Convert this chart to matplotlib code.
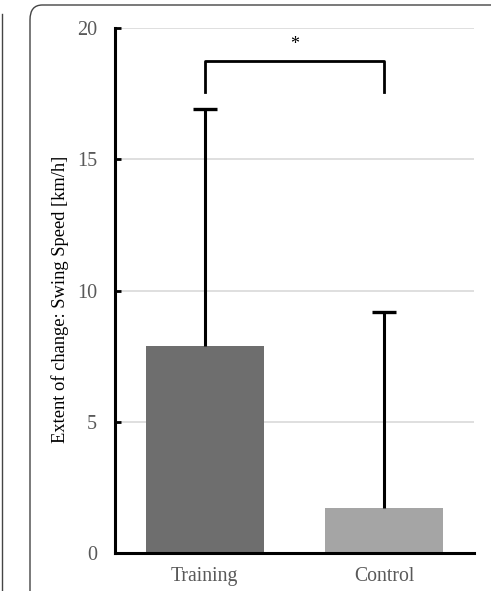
import matplotlib
matplotlib.use("Agg")
from matplotlib import pyplot as plt
from matplotlib.patches import FancyBboxPatch
from matplotlib.lines import Line2D

## Data
groups = ["Training", "Control"]
means = [7.9, 1.7]
sds = [9.0, 7.5]  # upper error only
bracket_y = 18.75
bracket_drop = 17.55
sig_label = "*"
yticks = [0, 5, 10, 15, 20]

## Style
plt.rc("font", family=["Liberation Serif", "DejaVu Serif"], size=14)
bar_colors = ["#6e6e6e", "#a5a5a5"]
tick_color = "#595959"

fig = plt.figure(figsize=(4.91, 5.91), dpi=100)

# panel frame (rounded box, cut at right/bottom) + edge of neighbouring panel
frame = FancyBboxPatch(
    (30 / 491, -0.1), 1.2, (591 - 5) / 591 + 0.1,
    boxstyle="round,pad=0,rounding_size=0.025",
    transform=fig.transFigure, facecolor="none", edgecolor="#444444", linewidth=1.0,
)
fig.patches.append(frame)
fig.lines.append(Line2D([2 / 491, 2 / 491], [0, 1 - 14 / 591], transform=fig.transFigure,
                        color="#444444", linewidth=1.0))

ax = fig.add_axes([115 / 491, 38 / 591, (474 - 115) / 491, (553 - 28) / 591])

x = list(range(len(groups)))
tops = [m + s for m, s in zip(means, sds)]
ax.bar(x, means, width=0.66, color=bar_colors, zorder=2)
# upper-only error bars
ax.vlines(x, means, tops, color="black", linewidth=2.2, zorder=3)
ax.plot(x, tops, linestyle="none", marker="_", markersize=17, markeredgewidth=2.4,
        color="black", zorder=3)

# significance bracket
ax.plot([0, 0, 1, 1], [bracket_drop, bracket_y, bracket_y, bracket_drop],
        color="black", linewidth=2.0, clip_on=False, zorder=4)
ax.text(0.5, bracket_y + 0.3, sig_label, ha="center", va="bottom", fontsize=13)

ax.set_xlim(-0.5, 1.5)
ax.set_ylim(0, 20)
ax.set_yticks(yticks)
ax.set_xticks(x)
ax.set_xticklabels(groups, fontsize=14.2)
ax.yaxis.grid(True, color="#d9d9d9", linewidth=1.2, zorder=0)
ax.set_axisbelow(True)

for side in ["top", "right"]:
    ax.spines[side].set_visible(False)
for side in ["left", "bottom"]:
    ax.spines[side].set_linewidth(2.2)
    ax.spines[side].set_color("black")

ax.tick_params(axis="y", direction="in", length=4, width=2, colors="black",
               labelcolor=tick_color, labelsize=14.5, pad=13)
ax.tick_params(axis="x", length=0, labelcolor=tick_color, pad=10)

ax.set_ylabel("Extent of change: Swing Speed [km/h]", fontsize=13.3, color="black")
ax.yaxis.set_label_coords(-0.128, 0.484)

fig.savefig("out.png", dpi=100)
